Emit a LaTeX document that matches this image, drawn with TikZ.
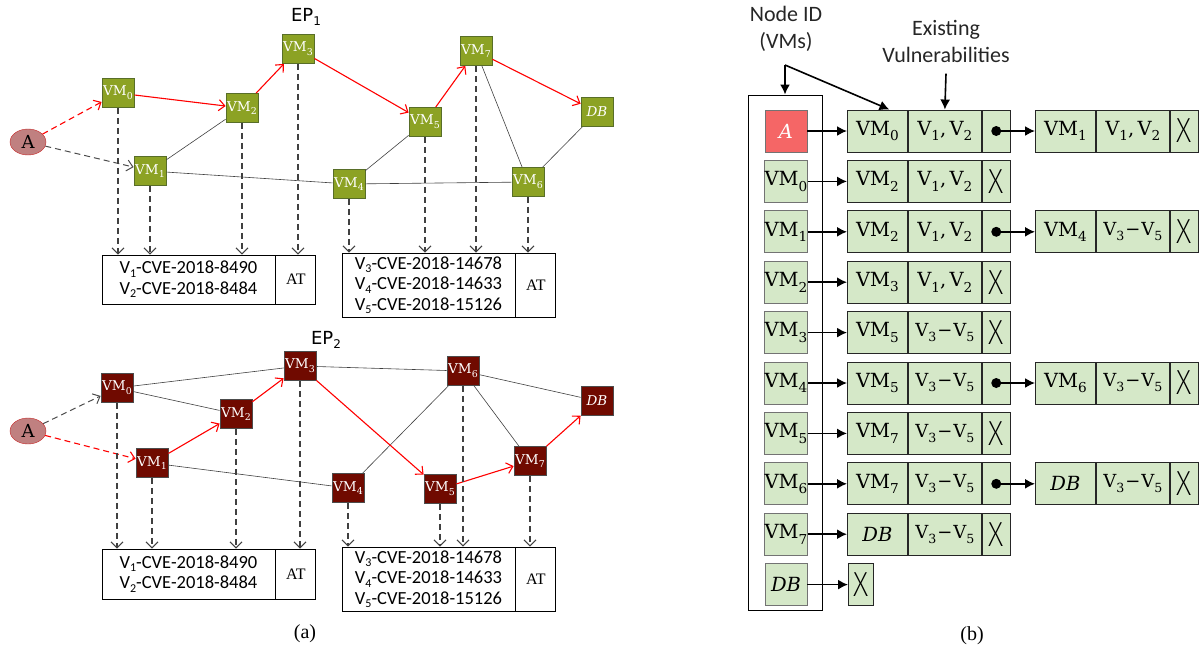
\documentclass[tikz,border=0pt]{standalone}
\usepackage{fontspec}
\usepackage{graphicx}
\newfontfamily\calfont{Carlito}
\newfontfamily\thinfont{Fira Sans}[UprightFont={* ExtraLight}]
\newfontfamily\epfont{DejaVu Sans}
\newfontfamily\capfont{Liberation Serif}
\newfontfamily\vmfont{DejaVu Serif}
\usetikzlibrary{arrows.meta,positioning,shapes.geometric}

\definecolor{epgreen}{RGB}{140,162,36}
\definecolor{epgreenline}{RGB}{88,110,40}
\definecolor{epmaroon}{RGB}{112,10,0}
\definecolor{attacker}{RGB}{192,128,128}
\definecolor{attackerline}{RGB}{200,40,40}
\definecolor{listgreen}{RGB}{213,232,200}
\definecolor{headred}{RGB}{245,102,102}

\newcommand\idx[1]{\raisebox{-0.28em}{\scalebox{0.7}{#1}}}
\newcommand\vmn[1]{VM\idx{#1}}
\newcommand\vab{{\fontsize{19.5}{20}\selectfont V\idx{1},\,V\idx{2}}}
\newcommand\vcd{{\fontsize{18}{18}\selectfont V\idx{3}\kern1pt−\kern1pt V\idx{5}}}
\newcommand\dbn{{\itshape DB}}
\newcommand\nullx{{\thinfont\scalebox{1.25}[1.45]{\fontsize{24}{24}\selectfont X}}}
\newcommand\lowidx[1]{\raisebox{-0.4ex}{\fontsize{12}{12}\selectfont #1}}

\tikzset{
  vm/.style={draw, line width=0.8pt, minimum width=32pt, minimum height=29pt, inner sep=0pt, text=white, font=\vmfont\fontsize{13.5}{14}\selectfont},
  vmg/.style={vm, fill=epgreen, draw=epgreenline},
  vmr/.style={vm, fill=epmaroon, draw=black!70},
  atk/.style={ellipse, draw=attackerline, fill=attacker, minimum width=36pt, minimum height=26pt, inner sep=0pt, font=\vmfont\fontsize{18}{18}\selectfont},
  hop/.style={red, line width=1.1pt, -{Straight Barb[length=6pt,width=11pt]}},
  hopd/.style={hop, dash pattern=on 6pt off 4pt},
  probe/.style={black!70, line width=1pt, dash pattern=on 6pt off 4pt, -{Straight Barb[length=6pt,width=11pt]}},
  link/.style={black!75, line width=0.6pt},
  drop/.style={black!75, line width=1.1pt, dash pattern=on 6pt off 4pt, -{Straight Barb[length=6pt,width=12pt]}},
  cve/.style={draw, line width=0.8pt, minimum width=173pt, inner sep=0pt, align=center, font=\calfont\fontsize{18.5}{20.5}\selectfont},
  atcell/.style={draw, line width=0.8pt, minimum width=40pt, inner sep=0pt, font=\capfont\fontsize{16}{16}\selectfont},
  idcell/.style={draw=black!55, line width=0.8pt, fill=listgreen, minimum width=42pt, minimum height=42pt, inner sep=0pt, font=\vmfont\fontsize{19.5}{20}\selectfont},
  fcell/.style={draw=black!85, line width=0.9pt, fill=listgreen, minimum height=42pt, inner sep=0pt, font=\vmfont\fontsize{19.5}{20}\selectfont},
  namecell/.style={fcell, minimum width=60pt},
  vulncell/.style={fcell, minimum width=73pt},
  nextcell/.style={fcell, minimum width=28pt},
  ptr/.style={line width=1.6pt, -{Latex[length=10pt,width=10pt]}},
  lbl/.style={font=\calfont\fontsize{22}{27}\selectfont, align=center, text=black!85}
}

\begin{document}
\begin{tikzpicture}[x=1pt,y=-1pt]
\useasboundingbox (0,0) rectangle (1199,654);

% EP_1
\node[font=\epfont\fontsize{18}{18}\selectfont] (ep1) at (306,17) {EP\lowidx{1}};
\node[atk] (e1a) at (28,142) {A};
\foreach \n/\x/\y in {0/118/93, 1/150/171, 2/242/108, 3/298/49, 4/349/184, 5/425/122, 6/528/182, 7/476/51}
  \node[vmg] (e1vm\n) at (\x,\y) {\vmn\n};
\node[vmg] (e1vmdb) at (597,112) {\dbn};

\node[cve, minimum height=49pt] (e1cvea) at (188.5,279.5) {V\lowidx{1}-CVE-2018-8490\\V\lowidx{2}-CVE-2018-8484};
\node[atcell, minimum height=49pt, right=0pt of e1cvea] (e1ata) {AT};
\node[cve, minimum height=64pt] (e1cveb) at (428.5,285) {V\lowidx{3}-CVE-2018-14678\\V\lowidx{4}-CVE-2018-14633\\V\lowidx{5}-CVE-2018-15126};
\node[atcell, minimum height=64pt, right=0pt of e1cveb] (e1atb) {AT};

\draw[hopd] (e1a) -- (e1vm0);
\draw[probe] (e1a) -- (e1vm1);
\foreach \u/\v in {1/2, 1/4, 4/5, 4/6, 6/7, 6/db}
  \draw[link] (e1vm\u) -- (e1vm\v);
\foreach \u/\v in {0/2, 2/3, 3/5, 5/7, 7/db}
  \draw[hop] (e1vm\u) -- (e1vm\v);
\foreach \n in {0,1,2,3}
  \draw[drop] (e1vm\n.south) -- (e1vm\n.south |- e1cvea.north);
\foreach \n in {4,5,6,7}
  \draw[drop] (e1vm\n.south) -- (e1vm\n.south |- e1cveb.north);

% EP_2
\node[font=\epfont\fontsize{18}{18}\selectfont] (ep2) at (326,340) {EP\lowidx{2}};
\node[atk] (e2a) at (28,431) {A};
\foreach \n/\x/\y in {0/117/388, 1/152/463, 2/236/414, 3/300/366, 4/348/488, 5/440/489, 6/463/371, 7/530/461}
  \node[vmr] (e2vm\n) at (\x,\y) {\vmn\n};
\node[vmr] (e2vmdb) at (597,401) {\dbn};

\node[cve, minimum height=50pt] (e2cvea) at (188.5,574) {V\lowidx{1}-CVE-2018-8490\\V\lowidx{2}-CVE-2018-8484};
\node[atcell, minimum height=50pt, right=0pt of e2cvea] (e2ata) {AT};
\node[cve, minimum height=64pt] (e2cveb) at (428.5,579) {V\lowidx{3}-CVE-2018-14678\\V\lowidx{4}-CVE-2018-14633\\V\lowidx{5}-CVE-2018-15126};
\node[atcell, minimum height=64pt, right=0pt of e2cveb] (e2atb) {AT};

\draw[probe] (e2a) -- (e2vm0);
\draw[hopd] (e2a) -- (e2vm1);
\foreach \u/\v in {0/3, 0/2, 1/4, 3/6, 6/db, 6/4, 6/7}
  \draw[link] (e2vm\u) -- (e2vm\v);
\foreach \u/\v in {1/2, 2/3, 3/5, 5/7, 7/db}
  \draw[hop] (e2vm\u) -- (e2vm\v);
\foreach \n in {0,1,2,3}
  \draw[drop] (e2vm\n.south) -- (e2vm\n.south |- e2cvea.north);
\foreach \n in {4,5,6,7}
  \draw[drop] (e2vm\n.south) -- (e2vm\n.south |- e2cveb.north);

\node[font=\capfont\fontsize{20}{20}\selectfont] (capa) at (305,634) {(a)};

% adjacency list
\node[lbl] (lblid) at (786,29) {Node ID\\(VMs)};
\node[lbl] (lblvu) at (946,41) {Existing\\Vulnerabilities};
\node[draw, line width=1pt, minimum width=74pt, minimum height=515pt] (ids) at (785,352.5) {};

\node[idcell, fill=headred, text=white] (id0) at (786,131) {\itshape A};
\node[namecell, anchor=west] (nm0) at (847,131) {\vmn0};
\node[vulncell, right=0pt of nm0] (vu0) {\vab};
\node[nextcell, right=0pt of vu0] (nx0) {};
\draw[ptr] (id0) -- (nm0);

\foreach \i/\id/\nm/\vu/\nx in {1/{\vmn0}/{\vmn2}/\vab/\nullx, 2/{\vmn1}/{\vmn2}/\vab/{}, 3/{\vmn2}/{\vmn3}/\vab/\nullx,
    4/{\vmn3}/{\vmn5}/\vcd/\nullx, 5/{\vmn4}/{\vmn5}/\vcd/{}, 6/{\vmn5}/{\vmn7}/\vcd/\nullx,
    7/{\vmn6}/{\vmn7}/\vcd/{}, 8/{\vmn7}/\dbn/\vcd/\nullx} {
  \node[idcell] (id\i) at (786,131+50.4*\i) {\id};
  \node[namecell, anchor=west] (nm\i) at (847,131+50.4*\i) {\nm};
  \node[vulncell, right=0pt of nm\i] (vu\i) {\vu};
  \node[nextcell, right=0pt of vu\i] (nx\i) {\nx};
  \draw[ptr] (id\i) -- (nm\i);
}
\node[idcell] (id9) at (786,584.6) {\dbn};
\node[fcell, minimum width=25pt, anchor=west] (nm9) at (848,584.6) {\nullx};
\draw[ptr] (id9) -- (nm9);

\foreach \i/\nm/\vu in {0/{\vmn1}/\vab, 2/{\vmn4}/\vcd, 5/{\vmn6}/\vcd, 7/\dbn/\vcd} {
  \node[namecell, anchor=west] (nmb\i) at (1035,131+50.4*\i) {\nm};
  \node[vulncell, right=0pt of nmb\i] (vub\i) {\vu};
  \node[nextcell, right=0pt of vub\i] (nxb\i) {\nullx};
  \fill (nx\i.center) circle (5pt);
  \draw[ptr] (nx\i.center) -- (nmb\i);
}

\coordinate (fork) at (785,65);
\draw[ptr] (fork) -- (ids.north);
\draw[ptr] (fork) -- ([xshift=12pt]nm0.north);
\draw[ptr] ([yshift=-8pt]lblvu.south) -- (vu0.north);

\node[font=\capfont\fontsize{20}{20}\selectfont] (capb) at (972,636) {(b)};
\end{tikzpicture}
\end{document}
